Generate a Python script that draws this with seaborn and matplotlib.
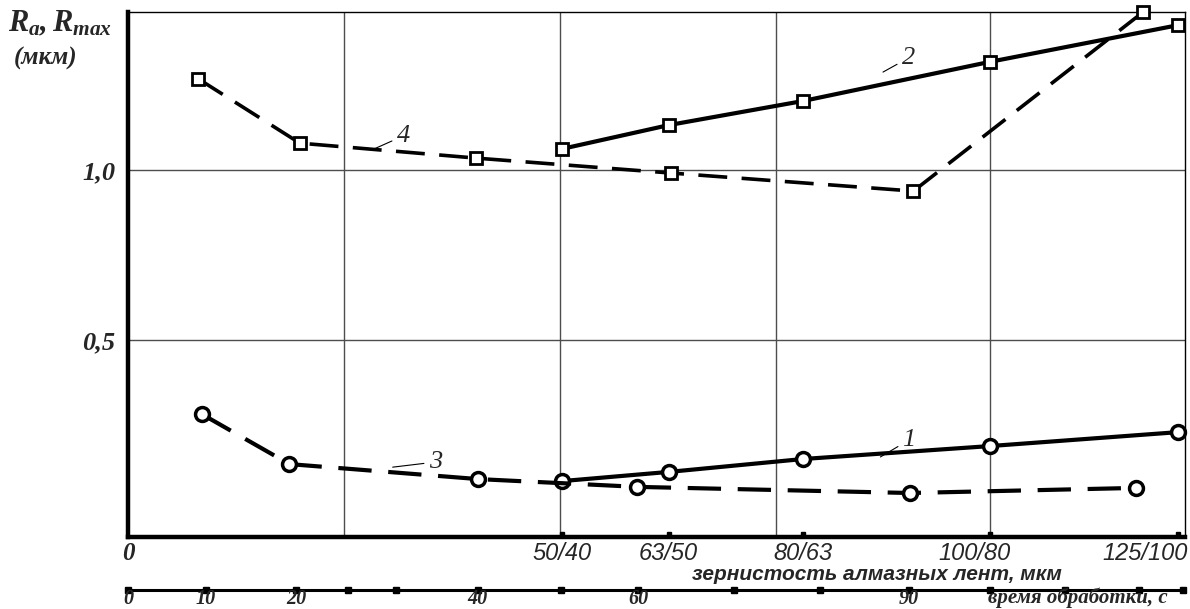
import numpy as np
import pandas as pd
import matplotlib
matplotlib.use("Agg")
import matplotlib.pyplot as plt
import matplotlib.transforms as mtransforms
import seaborn as sns

# ---------------- data (x read along the shared horizontal scale, in time-axis seconds) ----
grit_labels = ["50/40", "63/50", "80/63", "100/80", "125/100"]
grit_x = [50.0, 62.3, 77.8, 99.3, 121.0]
curve1_ra = [0.085, 0.112, 0.150, 0.188, 0.229]          # 1: Ra vs grit
curve2_rmax = [1.062, 1.132, 1.203, 1.318, 1.426]        # 2: Rmax vs grit
curve3_t = [8.5, 18.6, 40.3, 58.7, 90.1, 116.2]
curve3_ra = [0.282, 0.135, 0.091, 0.068, 0.050, 0.065]   # 3: Ra vs time
curve4_t = [8.1, 19.8, 40.1, 62.6, 90.5, 117.0]
curve4_rmax = [1.268, 1.079, 1.035, 0.991, 0.938, 1.465] # 4: Rmax vs time
time_labels = ["0", "10", "20", "40", "60", "90"]
time_label_x = [0, 9.0, 19.4, 40.3, 58.8, 90.0]
time_dots_x = [0, 9.0, 19.4, 25.3, 30.9, 40.3, 49.9, 58.8, 69.8, 79.7, 90.0,
               99.3, 108.0, 116.5, 121.6]
grid_x = [24.9, 49.8, 74.7, 99.3]
y_ticks = [0.5, 1.0]
y_labels = ["0,5", "1,0"]

sns.set_theme(style="white")
plt.rcParams["font.family"] = ["Liberation Serif", "DejaVu Serif"]
plt.rcParams["mathtext.fontset"] = "custom"
plt.rcParams["mathtext.it"] = "Liberation Serif:italic:bold"
plt.rcParams["mathtext.rm"] = "Liberation Serif:italic:bold"

W, H = 1190, 609
fig = plt.figure(figsize=(W / 100, H / 100), dpi=100)
L, R, T, B = 128, 1185, 12, 537
ax = fig.add_axes([L / W, 1 - B / H, (R - L) / W, (B - T) / H])
xmax = 121.8
ax.set_xlim(0, xmax)
ax.set_ylim(-0.0794, 1.4647)


def ya(py):
    """pixel row -> axes fraction"""
    return (B - py) / (B - T)


serif = dict(family=["Liberation Serif", "DejaVu Serif"], weight="bold", style="italic")
sans_i = dict(family=["Liberation Sans", "DejaVu Sans"], style="italic")

# grid
ax.set_xticks(grid_x)
ax.set_xticklabels([])
ax.set_yticks(y_ticks)
ax.set_yticklabels(y_labels, fontdict=dict(size=19, **serif))
ax.tick_params(length=0, pad=9)
ax.grid(True, color="#4d4d4d", linewidth=1.0)
ax.set_axisbelow(True)
for s in ["left", "bottom"]:
    ax.spines[s].set_linewidth(3.2)
for s in ["top", "right"]:
    ax.spines[s].set_linewidth(1.0)
for s in ax.spines.values():
    s.set_color("black")

df1 = pd.DataFrame({"x": grit_x, "y": curve1_ra})
df2 = pd.DataFrame({"x": grit_x, "y": curve2_rmax})
df3 = pd.DataFrame({"x": curve3_t, "y": curve3_ra})
df4 = pd.DataFrame({"x": curve4_t, "y": curve4_rmax})

common = dict(color="black", markerfacecolor="white", markeredgecolor="black",
              sort=False, clip_on=False, zorder=3)
sns.lineplot(data=df2, x="x", y="y", ax=ax, marker="s", markersize=8,
             markeredgewidth=2.0, linewidth=3.0, **common)
sns.lineplot(data=df4, x="x", y="y", ax=ax, marker="s", markersize=8,
             markeredgewidth=2.0, linewidth=2.6, linestyle=(0, (8, 4)), **common)
sns.lineplot(data=df1, x="x", y="y", ax=ax, marker="o", markersize=10,
             markeredgewidth=2.5, linewidth=3.0, **common)
sns.lineplot(data=df3, x="x", y="y", ax=ax, marker="o", markersize=10,
             markeredgewidth=2.5, linewidth=3.0, linestyle=(0, (8, 4)), **common)
ax.set_xlabel("")
ax.set_ylabel("")

# curve numbers with leader lines
for txt, xy, xyt in [("1", (86.7, 0.156), (90.0, 0.206)),
                     ("2", (87.0, 1.288), (89.9, 1.329)),
                     ("3", (30.5, 0.126), (35.4, 0.141)),
                     ("4", (28.1, 1.059), (31.7, 1.100))]:
    ax.annotate(txt, xy=xy, xytext=xyt, ha="center", va="center",
                fontsize=19, family=["Liberation Serif"], style="italic",
                arrowprops=dict(arrowstyle="-", lw=0.8, color="black",
                                shrinkA=1, shrinkB=0))

trans = mtransforms.blended_transform_factory(ax.transData, ax.transAxes)
# tick dots on the bottom spine at grit positions
ax.plot(grit_x, [0.006] * len(grit_x), linestyle="none", marker="s", markersize=3.5,
        color="black", transform=trans, clip_on=False, zorder=5)

# grit labels
for gx, gl in zip(grit_x, grit_labels):
    if gl == "125/100":
        ax.text(xmax + 0.3, ya(553), gl, transform=trans, ha="right", va="center",
                fontsize=17, **sans_i)
    elif gl == "100/80":
        ax.text(gx - 1.7, ya(553), gl, transform=trans, ha="center", va="center",
                fontsize=17, **sans_i)
    else:
        ax.text(gx, ya(553), gl, transform=trans, ha="center", va="center",
                fontsize=17, **sans_i)
ax.text(0, ya(553), "0", transform=trans, ha="center", va="center", fontsize=18, **serif)
ax.text(86.3, ya(574), "зернистость алмазных лент, мкм", transform=trans,
        ha="center", va="center", fontsize=15, family=["Liberation Sans"],
        weight="bold", style="italic")

# time axis under the chart
y_line = ya(590)
ax.plot([0, xmax], [y_line, y_line], color="black", linewidth=2.2,
        transform=trans, clip_on=False)
ax.plot(time_dots_x, [y_line] * len(time_dots_x), linestyle="none", marker="s",
        markersize=4, color="black", transform=trans, clip_on=False)
for tx, tl in zip(time_label_x, time_labels):
    ax.text(tx, ya(608.5), tl, transform=trans, ha="center", va="bottom",
            fontsize=14.5, **serif)
ax.text(109.5, ya(608.5), "время обработки, с", transform=trans,
        ha="center", va="bottom", fontsize=15, **serif)

# y-axis title
fig.text(8 / W, 1 - 24 / H, r"$R_a,R_{max}$", ha="left", va="center", fontsize=22)
fig.text(14 / W, 1 - 58 / H, "(мкм)", ha="left", va="center", fontsize=18, **serif)

fig.savefig("out.png", dpi=100)
